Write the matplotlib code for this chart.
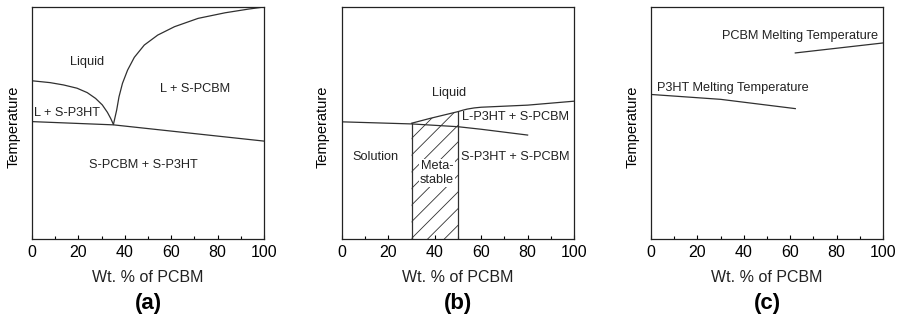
import numpy as np
import matplotlib
matplotlib.use("Agg")
from matplotlib import pyplot as plt

plt.rcParams['font.family'] = ['Liberation Sans', 'DejaVu Sans']
plt.rcParams['hatch.linewidth'] = 0.6

# panel (a): eutectic phase diagram
a_left_x = [0, 7.8, 13.6, 19.4, 23.8, 27.4, 30.3, 32.5, 33.9, 35.1]
a_left_y = [68.2, 67.4, 66.4, 65.0, 63.1, 60.6, 57.8, 54.6, 52.0, 49.4]
a_right_x = [35.1, 36.5, 37.5, 39.0, 41.2, 44.1, 48.4, 54.2, 61.4, 71.6, 83.2, 93.3, 100]
a_right_y = [49.4, 55.6, 61.3, 67.1, 72.8, 78.3, 83.6, 87.9, 91.5, 95.1, 97.5, 99.1, 100]
a_sol_x = [0, 35.1, 100]
a_sol_y = [50.6, 49.2, 42.2]

# panel (b): with metastable region
b_solv_x = [0, 30, 50, 60, 80]
b_solv_y = [50.5, 49.6, 48.4, 47.3, 44.8]
b_liq_x = [30, 38, 50, 52, 54, 57, 60, 80, 100]
b_liq_y = [49.9, 52.0, 54.9, 55.5, 56.0, 56.5, 56.8, 57.7, 59.4]
b_meta = [30, 50]

# panel (c): melting temperatures
c_p3ht_x = [0, 30, 62.2]
c_p3ht_y = [62.3, 60.2, 56.2]
c_pcbm_x = [62.2, 100]
c_pcbm_y = [80.2, 84.5]

xticks = [0, 20, 40, 60, 80, 100]
lc = '#303030'

fig = plt.figure(figsize=(8.97, 3.19), dpi=100)
lefts = [32, 342, 651]
ylab_x = [-0.078, -0.082, -0.078]
axes = []
for i, l in enumerate(lefts):
    ax = fig.add_axes([l / 897, 80 / 319, 232 / 897, 232 / 319])
    ax.set_xlim(0, 100)
    ax.set_ylim(0, 100)
    ax.set_xticks(xticks)
    ax.set_xticks(range(10, 100, 20), minor=True)
    ax.set_yticks([])
    ax.tick_params(axis='x', which='major', direction='in', length=3, width=0.8,
                   labelsize=11.5, pad=4.5)
    ax.tick_params(axis='x', which='minor', direction='in', length=2, width=0.8)
    for s in ax.spines.values():
        s.set_linewidth(0.9)
        s.set_color('#222222')
    ax.text(0.5, -0.135, 'Wt. % of PCBM', transform=ax.transAxes, ha='center',
            va='top', fontsize=11.5, color='#222222')
    ax.text(0.5, -0.28, '(%s)' % 'abc'[i], transform=ax.transAxes, ha='center',
            va='center', fontsize=16, fontweight='bold')
    ax.text(ylab_x[i], 0.483, 'Temperature', transform=ax.transAxes, rotation=90,
            ha='center', va='center', fontsize=10.5)
    axes.append(ax)

fs = 9.2
ax = axes[0]
ax.plot(a_left_x, a_left_y, color=lc, lw=0.9)
ax.plot(a_right_x, a_right_y, color=lc, lw=0.9)
ax.plot(a_sol_x, a_sol_y, color=lc, lw=0.9)
ax.text(23.9, 76.3, 'Liquid', ha='center', va='center', fontsize=fs, color='#222222')
ax.text(70.3, 64.8, 'L + S-PCBM', ha='center', va='center', fontsize=fs, color='#222222')
ax.text(15, 54.1, 'L + S-P3HT', ha='center', va='center', fontsize=fs, color='#222222')
ax.text(48, 31.9, 'S-PCBM + S-P3HT', ha='center', va='center', fontsize=fs, color='#222222')

ax = axes[1]
ax.plot(b_solv_x, b_solv_y, color=lc, lw=0.9)
ax.plot(b_liq_x, b_liq_y, color=lc, lw=0.9)
hx = [x for x in b_liq_x if b_meta[0] <= x <= b_meta[1]]
hy = [y for x, y in zip(b_liq_x, b_liq_y) if b_meta[0] <= x <= b_meta[1]]
ax.fill_between(hx, 0, hy, facecolor='none', edgecolor=lc, hatch='//', lw=0)
ax.plot([b_meta[0]] * 2, [0, hy[0]], color=lc, lw=0.9)
ax.plot([b_meta[1]] * 2, [0, hy[-1]], color=lc, lw=0.9)
ax.text(46.2, 63.0, 'Liquid', ha='center', va='center', fontsize=fs, color='#222222')
ax.text(74.6, 52.4, 'L-P3HT + S-PCBM', ha='center', va='center', fontsize=fs, color='#222222')
ax.text(14.3, 35.4, 'Solution', ha='center', va='center', fontsize=fs, color='#222222')
ax.text(40.9, 28.5, 'Meta-\nstable', ha='center', va='center', fontsize=fs,
        color='#222222', linespacing=1.25,
        bbox=dict(facecolor='white', edgecolor='none', pad=0.5))
ax.text(74.6, 35.4, 'S-P3HT + S-PCBM', ha='center', va='center', fontsize=fs, color='#222222')

ax = axes[2]
ax.plot(c_p3ht_x, c_p3ht_y, color=lc, lw=0.9)
ax.plot(c_pcbm_x, c_pcbm_y, color=lc, lw=0.9)
ax.text(97.7, 87.4, 'PCBM Melting Temperature', ha='right', va='center', fontsize=fs, color='#222222')
ax.text(2.6, 65.3, 'P3HT Melting Temperature', ha='left', va='center', fontsize=fs, color='#222222')

fig.savefig('out.png', dpi=100)
